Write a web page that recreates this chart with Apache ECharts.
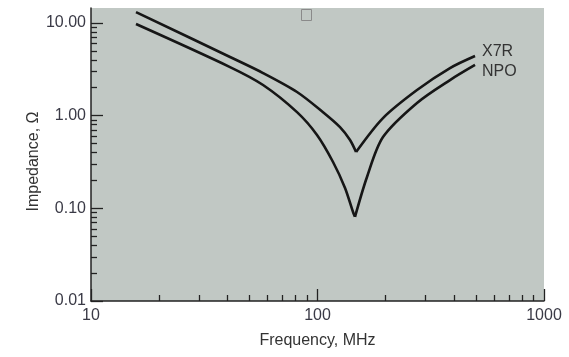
<!DOCTYPE html>
<html>
<head>
<meta charset="utf-8">
<script src="https://cdn.jsdelivr.net/npm/echarts@6/dist/echarts.min.js"></script>
<style>
  html, body { margin: 0; padding: 0; background: #fff; }
  #chart { width: 569px; height: 357px; }
</style>
</head>
<body>
<div id="chart"></div>
<script>
// Frequency points (MHz) and impedance (ohm) for each capacitor dielectric
const x7rFreq = [15.8, 41.1, 57.5, 81.2, 105.8, 125.7, 139.2, 148.0, 194.6, 275, 384.6, 496];
const x7rImp  = [13.1, 4.29, 2.88, 1.80, 1.09, 0.753, 0.546, 0.405, 0.942, 1.89, 3.26, 4.40];

const npoFreq = [15.8, 41.1, 57.5, 81.2, 99.5, 117.1, 132.3, 143.5, 146.4, 165.4, 194.6, 275, 384.6, 496];
const npoImp  = [9.73, 3.34, 2.14, 1.09, 0.618, 0.316, 0.166, 0.0912, 0.081, 0.218, 0.587, 1.37, 2.42, 3.52];

// Axis tick values
const xMajor = [10, 100, 1000];
const xMinor = [20, 30, 40, 50, 60, 70, 80, 90, 200, 300, 400, 500, 600, 700, 800, 900];
const yMajor = [0.01, 0.1, 1, 10];
const yMinor = [0.02, 0.03, 0.04, 0.05, 0.06, 0.07, 0.08, 0.09,
                0.2, 0.3, 0.4, 0.5, 0.6, 0.7, 0.8, 0.9,
                2, 3, 4, 5, 6, 7, 8, 9];
const yLabelText = { 0.01: '0.01', 0.1: '0.10', 1: '1.00', 10: '10.00' };

const textColor = '#3a3a46';
const fontFamily = 'Liberation Sans, Arial, sans-serif';
const yMax = 14.5;
const lineColor = '#161616';

const pairs = (xs, ys) => xs.map((x, i) => [x, ys[i]]);

// Each resonance curve is drawn as two smooth branches that meet at the
// impedance minimum, so the self-resonant notch stays sharp.
function branches(name, xs, ys, labelOffset) {
  const pts = pairs(xs, ys);
  let k = 0;
  ys.forEach((v, i) => { if (v < ys[k]) k = i; });
  const common = {
    type: 'line', xAxisIndex: 0, yAxisIndex: 0,
    showSymbol: false, smooth: 0.3, clip: false,
    lineStyle: { color: lineColor, width: 2.6 }
  };
  return [
    Object.assign({}, common, { name: name, data: pts.slice(0, k + 1) }),
    Object.assign({}, common, {
      name: name, data: pts.slice(k),
      endLabel: {
        show: true, formatter: name, offset: labelOffset, distance: 5,
        color: '#333', fontSize: 16, fontFamily
      }
    })
  ];
}

const chart = echarts.init(document.getElementById('chart'), null, { renderer: 'canvas' });

const baseX = {
  type: 'log', logBase: 10, min: 10, max: 1000, gridIndex: 0, position: 'bottom',
  splitLine: { show: false }
};
const baseY = {
  type: 'log', logBase: 10, min: 0.01, max: yMax, gridIndex: 0, position: 'left',
  splitLine: { show: false }
};

chart.setOption({
  animation: false,
  backgroundColor: '#ffffff',
  grid: {
    left: 91, right: 25, top: 8, bottom: 56,
    show: true, backgroundColor: '#c1c8c4', borderWidth: 0
  },
  xAxis: [
    Object.assign({}, baseX, {
      name: 'Frequency, MHz', nameLocation: 'middle', nameGap: 32,
      nameTextStyle: { color: '#333', fontSize: 16, fontFamily },
      axisLine: { show: true, lineStyle: { color: '#222', width: 1.5 } },
      axisTick: { show: true, inside: true, length: 12, customValues: xMajor, lineStyle: { color: '#222', width: 1.3 } },
      axisLabel: {
        show: true, customValues: xMajor, margin: 7, color: textColor, fontSize: 16, fontFamily,
        formatter: v => String(v)
      }
    }),
    Object.assign({}, baseX, {
      axisLine: { show: false },
      axisTick: { show: true, inside: true, length: 6, customValues: xMinor, lineStyle: { color: '#222', width: 1.3 } },
      axisLabel: { show: false }
    })
  ],
  yAxis: [
    Object.assign({}, baseY, {
      name: 'Impedance, Ω', nameLocation: 'middle', nameGap: 49, nameRotate: 90,
      nameMoveOverlap: false,
      nameTextStyle: { color: '#333', fontSize: 16, fontFamily, padding: [0, 14, 0, 0] },
      axisLine: { show: true, lineStyle: { color: '#222', width: 1.5 } },
      axisTick: { show: true, inside: true, length: 12, customValues: yMajor, lineStyle: { color: '#222', width: 1.3 } },
      axisLabel: {
        show: true, customValues: yMajor, margin: 5, color: textColor, fontSize: 16, fontFamily,
        formatter: v => yLabelText[v] !== undefined ? yLabelText[v] : String(v)
      }
    }),
    Object.assign({}, baseY, {
      axisLine: { show: false },
      axisTick: { show: true, inside: true, length: 6, customValues: yMinor, lineStyle: { color: '#222', width: 1.3 } },
      axisLabel: { show: false }
    })
  ],
  graphic: [
    {
      type: 'rect', left: 299, top: 7,
      shape: { width: 10, height: 11 },
      style: { fill: 'none', stroke: '#8a8a8a', lineWidth: 1 }
    }
  ],
  series: [].concat(
    branches('X7R', x7rFreq, x7rImp, [2, -4]),
    branches('NPO', npoFreq, npoImp, [2, 7])
  )
});
</script>
</body>
</html>
